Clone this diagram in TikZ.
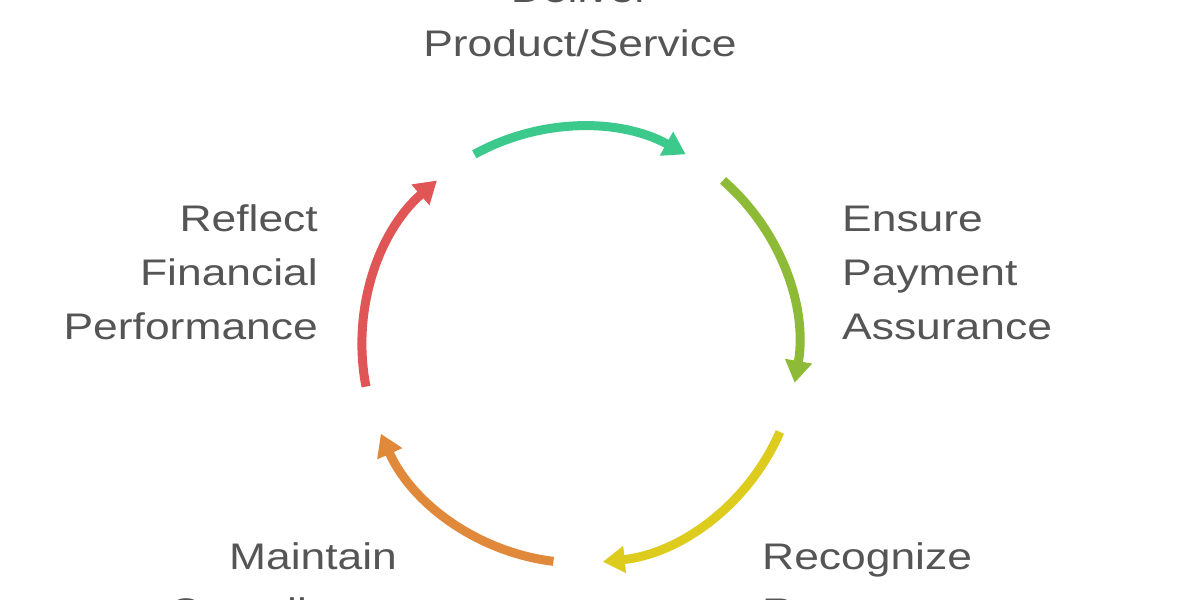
\documentclass[tikz,border=0pt]{standalone}
\usepackage{fontspec}
\setmainfont{Liberation Sans}[FakeStretch=1.2]
\usetikzlibrary{arrows.meta,calc}
\definecolor{tg}{HTML}{555555}
\definecolor{cA}{HTML}{3CC98C}
\definecolor{cB}{HTML}{8DBB37}
\definecolor{cC}{HTML}{DDCC1E}
\definecolor{cD}{HTML}{E0893A}
\definecolor{cE}{HTML}{E05656}
\begin{document}
\begin{tikzpicture}[x=1pt,y=1pt,
  arc/.style={line width=9pt,-{Triangle[length=22pt,width=26pt]}},
  lbl/.style={text=tg,inner sep=0pt,font=\fontsize{37}{54}\selectfont}]
\useasboundingbox (0,0) rectangle (1200,600);
\clip (0,0) rectangle (1200,600);
\coordinate (c) at (580,255);
\draw[arc,cA] ($(c)+(119:218)$) arc (119:61:218);
\draw[arc,cB] ($(c)+(49:218)$) arc (49:-10:218);
\draw[arc,cC] ($(c)+(-23.5:218)$) arc (-23.5:-84:218);
\draw[arc,cD] ($(c)+(-97:218)$) arc (-97:-156:218);
\draw[arc,cE] ($(c)+(191:218)$) arc (191:131:218);
\node[lbl,anchor=base] (d1) at (580,597) {Deliver};
\node[lbl,anchor=base] (d2) at (580,543) {Product/Service};
\node[lbl,anchor=base west] (e1) at (842,368) {Ensure};
\node[lbl,anchor=base west] (e2) at (842,314) {Payment};
\node[lbl,anchor=base west] (e3) at (842,260) {Assurance};
\node[lbl,anchor=base east] (r1) at (318,368) {Reflect};
\node[lbl,anchor=base east] (r2) at (318,314) {Financial};
\node[lbl,anchor=base east] (r3) at (318,260) {Performance};
\node[lbl,anchor=base west] (g1) at (762,30) {Recognize};
\node[lbl,anchor=base west] (g2) at (762,-24) {Revenue};
\node[lbl,anchor=base] (m1) at (313,30) {Maintain};
\node[lbl,anchor=base] (m2) at (286,-24) {Compliance};
\end{tikzpicture}
\end{document}
